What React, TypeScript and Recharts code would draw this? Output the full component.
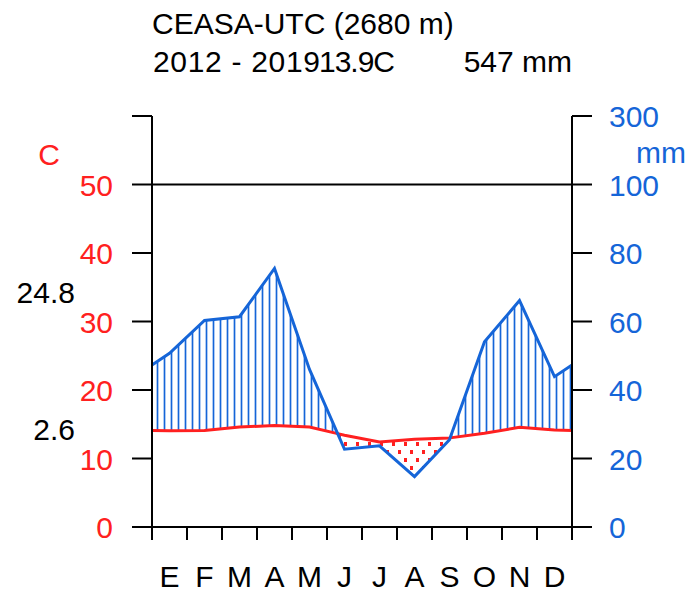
import {
  ComposedChart,
  Area,
  Line,
  XAxis,
  YAxis,
  ReferenceLine,
} from "recharts";

const MONTHS = ["E", "F", "M", "A", "M", "J", "J", "A", "S", "O", "N", "D"];
const PRECIP = [50.7, 60.3, 61.4, 75.5, 46, 22.7, 23.7, 14.7, 25.5, 54.1, 66.1, 43.9];
const TEMP = [14.05, 14.1, 14.6, 14.8, 14.6, 13.4, 12.4, 12.8, 13.0, 13.7, 14.55, 14.15];
const TEMP_TICKS = [0, 10, 20, 30, 40, 50, 60];
const MONTH_TICKS = [0, 1, 2, 3, 4, 5, 6, 7, 8, 9, 10, 11, 12];

const RED = "#ff2020";
const BLUE = "#1565d8";
const FONT = "'Liberation Sans', Arial, sans-serif";

// precipitation drawn on the temperature scale: 20 mm = 10 C up to 100 mm, compressed above
const toTempScale = (p: number) => (p <= 100 ? p / 2 : 50 + (p - 100) / 20);
const mmLabel = (v: number) => (v <= 50 ? v * 2 : 100 + (v - 50) * 20);

type Row = { x: number; t: number; p: number };

const buildRows = (): Row[] => {
  const last = MONTHS.length - 1;
  const edgeT = (TEMP[last] + TEMP[0]) / 2;
  const edgeP = toTempScale((PRECIP[last] + PRECIP[0]) / 2);
  const pts: Row[] = [{ x: 0, t: edgeT, p: edgeP }];
  MONTHS.forEach((_, i) => pts.push({ x: i + 0.5, t: TEMP[i], p: toTempScale(PRECIP[i]) }));
  pts.push({ x: MONTHS.length, t: edgeT, p: edgeP });

  // add the points where the two curves cross so the fills switch cleanly
  const rows: Row[] = [pts[0]];
  for (let i = 1; i < pts.length; i++) {
    const a = pts[i - 1];
    const b = pts[i];
    const da = a.p - a.t;
    const db = b.p - b.t;
    if (da * db < 0) {
      const f = da / (da - db);
      const t = a.t + f * (b.t - a.t);
      rows.push({ x: a.x + f * (b.x - a.x), t, p: t });
    }
    rows.push(b);
  }
  return rows;
};

const data = buildRows().map((r) => ({
  ...r,
  wet: [r.t, Math.max(r.t, r.p)],
  dry: [r.p, Math.max(r.p, r.t)],
}));

const EmptyTick = () => <g />;

const LeftTick = (props: any) => {
  const { x, y, payload } = props;
  if (payload.value === 60) return <g />;
  return (
    <text x={x} y={y} dy={11} textAnchor="end" fill={RED} fontSize={30} fontFamily={FONT}>
      {payload.value}
    </text>
  );
};

const RightTick = (props: any) => {
  const { x, y, payload } = props;
  return (
    <text x={x} y={y} dy={11} textAnchor="start" fill={BLUE} fontSize={30} fontFamily={FONT}>
      {mmLabel(payload.value)}
    </text>
  );
};

const MonthTick = (props: any) => {
  const { x, y, payload } = props;
  return (
    <text x={x} y={y} dy={21} textAnchor="middle" fill="#000" fontSize={30} fontFamily={FONT}>
      {MONTHS[Math.floor(payload.value)]}
    </text>
  );
};

const App = () => {
  return (
    <div style={{ position: "absolute", left: 0, top: 0, width: 688, height: 595, background: "#fff" }}>
      <ComposedChart
        width={688}
        height={595}
        data={data}
        margin={{ top: 116, right: 36, bottom: 0, left: 92 }}
      >
        <defs>
          <pattern id="wetLines" patternUnits="userSpaceOnUse" width={7} height={10}>
            <line x1={3.5} y1={0} x2={3.5} y2={10} stroke={BLUE} strokeWidth={1.7} />
          </pattern>
          <pattern id="dryDots" patternUnits="userSpaceOnUse" width={12} height={16}>
            <rect x={2} y={2} width={3} height={4} fill={RED} />
            <rect x={8} y={10} width={3} height={4} fill={RED} />
          </pattern>
        </defs>
        <XAxis
          xAxisId="a"
          dataKey="x"
          type="number"
          domain={[0, 12]}
          ticks={MONTH_TICKS}
          tick={<EmptyTick />}
          tickSize={13}
          height={13}
          axisLine={{ stroke: "#000", strokeWidth: 2 }}
          tickLine={{ stroke: "#000", strokeWidth: 2 }}
        />
        <XAxis
          xAxisId="b"
          dataKey="x"
          type="number"
          domain={[0, 12]}
          ticks={MONTHS.map((_, i) => i + 0.5)}
          axisLine={false}
          tickLine={false}
          tickSize={0}
          tickMargin={26}
          height={55}
          tick={<MonthTick />}
        />
        <YAxis
          yAxisId="t"
          orientation="left"
          domain={[0, 60]}
          ticks={TEMP_TICKS}
          width={60}
          tickSize={20}
          tickMargin={19}
          axisLine={{ stroke: "#000", strokeWidth: 2 }}
          tickLine={{ stroke: "#000", strokeWidth: 2 }}
          tick={<LeftTick />}
        />
        <YAxis
          yAxisId="p"
          orientation="right"
          domain={[0, 60]}
          ticks={TEMP_TICKS}
          width={80}
          tickSize={20}
          tickMargin={17}
          axisLine={{ stroke: "#000", strokeWidth: 2 }}
          tickLine={{ stroke: "#000", strokeWidth: 2 }}
          tick={<RightTick />}
        />
        <ReferenceLine xAxisId="a" yAxisId="t" y={50} stroke="#000" strokeWidth={2} />
        <Area
          xAxisId="a"
          yAxisId="t"
          type="linear"
          dataKey="wet"
          stroke="none"
          fill="url(#wetLines)"
          fillOpacity={1}
          isAnimationActive={false}
        />
        <Area
          xAxisId="a"
          yAxisId="t"
          type="linear"
          dataKey="dry"
          stroke="none"
          fill="url(#dryDots)"
          fillOpacity={1}
          isAnimationActive={false}
        />
        <Line
          xAxisId="a"
          yAxisId="t"
          type="linear"
          dataKey="t"
          stroke={RED}
          strokeWidth={3}
          dot={false}
          isAnimationActive={false}
        />
        <Line
          xAxisId="b"
          yAxisId="p"
          type="linear"
          dataKey="p"
          stroke={BLUE}
          strokeWidth={3}
          dot={false}
          isAnimationActive={false}
        />
      </ComposedChart>
      <svg
        width={688}
        height={595}
        style={{ position: "absolute", left: 0, top: 0, pointerEvents: "none" }}
        fontFamily={FONT}
        fontSize={30}
      >
        <text x={152} y={34}>CEASA-UTC (2680 m)</text>
        <text x={153} y={72} textLength={167}>2012 - 2019</text>
        <text x={319} y={72} textLength={76}>13.9C</text>
        <text x={572} y={72} textAnchor="end">547 mm</text>
        <text x={60} y={165} textAnchor="end" fill={RED}>C</text>
        <text x={75} y={303} textAnchor="end">24.8</text>
        <text x={75} y={440} textAnchor="end">2.6</text>
        <text x={686} y={163} textAnchor="end" fill={BLUE}>mm</text>
      </svg>
    </div>
  );
};

export default App;
